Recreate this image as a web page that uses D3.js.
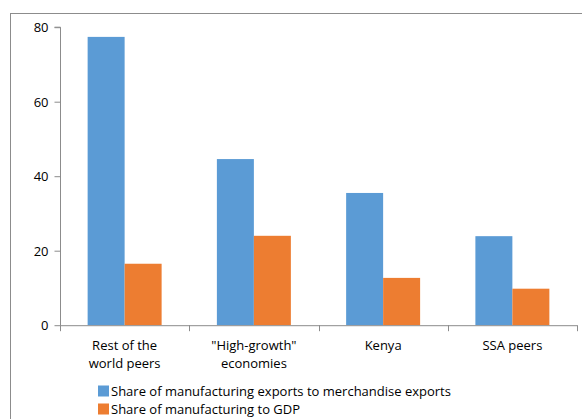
<!DOCTYPE html>
<html><head><meta charset="utf-8">
<script src="https://cdn.jsdelivr.net/npm/d3@7"></script>
<style>body{margin:0;background:#fff}svg{display:block}text{font-family:"Open Sans","Noto Sans",sans-serif;fill:#000}</style>
</head><body><svg id="c" width="582" height="419"></svg>
<script>
const categories = [["Rest of the","world peers"],["\"High-growth\"","economies"],["Kenya"],["SSA peers"]];
const seriesNames = ["Share of manufacturing exports to merchandise exports","Share of manufacturing to GDP"];
const exportsShare = [77.4, 44.6, 35.5, 23.9];
const gdpShare = [16.5, 24.0, 12.7, 9.8];
const yTicks = [0, 20, 40, 60, 80];
const colors = ["#5B9BD5", "#ED7D31"];

(function(){
const svg = d3.select("#c");
const fontSize = 13;
svg.append("rect").attr("x",10.5).attr("y",13.5).attr("width",700).attr("height",600)
  .attr("fill","none").attr("stroke","#8c8c8c").attr("stroke-width",1);

const pl = 60, pr = 577, pt = 27.2, pb = 325.2;
const x = d3.scaleBand().domain(d3.range(categories.length)).range([pl, pr]).padding(0);
const xi = d3.scaleBand().domain([0,1]).range([0, x.bandwidth()]).paddingInner(0).paddingOuter(0.747);
const y = d3.scaleLinear().domain([0, 80]).range([pb, pt]);

const data = categories.map((c,i)=>[exportsShare[i], gdpShare[i]]);
const g = svg.append("g");
data.forEach((vals,i)=>{
  vals.forEach((v,j)=>{
    g.append("rect").attr("x", x(i)+xi(j)).attr("width", xi.bandwidth())
      .attr("y", y(v)).attr("height", y(0)-y(v)).attr("fill", colors[j]);
  });
});

const ya = svg.append("g").attr("transform",`translate(${pl+0.5},0)`)
  .call(d3.axisLeft(y).tickValues(yTicks).tickSize(6).tickPadding(6).tickFormat(d3.format("d")));
ya.select(".domain").attr("stroke","#8c8c8c").attr("d",`M-6,${pt}H0V${pb}`);
ya.selectAll(".tick line").attr("stroke","#8c8c8c");
ya.selectAll(".tick text").attr("font-size",fontSize).attr("font-family",null).attr("fill","#000").attr("dy","0.35em");

const boundaries = d3.range(categories.length+1).map(i=> i<categories.length ? x(i) : x(i-1)+x.bandwidth());
const xa = svg.append("g");
xa.append("line").attr("x1",pl).attr("x2",pr).attr("y1",pb+0.5).attr("y2",pb+0.5).attr("stroke","#8c8c8c");
boundaries.forEach(b=>{
  xa.append("line").attr("x1",Math.round(b)+0.5).attr("x2",Math.round(b)+0.5).attr("y1",pb).attr("y2",pb+6).attr("stroke","#8c8c8c");
});
categories.forEach((lines,i)=>{
  const t = xa.append("text").attr("text-anchor","middle").attr("font-size",fontSize)
    .attr("x", x(i)+x.bandwidth()/2).attr("y", 350);
  lines.forEach((l,k)=> t.append("tspan").attr("x", x(i)+x.bandwidth()/2).attr("dy", k===0?0:18).text(l));
});

const lg = svg.append("g");
seriesNames.forEach((s,j)=>{
  const cy = 391 + j*18;
  lg.append("rect").attr("x",98).attr("y",cy-5.5).attr("width",11).attr("height",11).attr("fill",colors[j]);
  lg.append("text").attr("x",111).attr("y",cy).attr("dy","0.35em").attr("font-size",13).text(s);
});
})();
</script></body></html>
